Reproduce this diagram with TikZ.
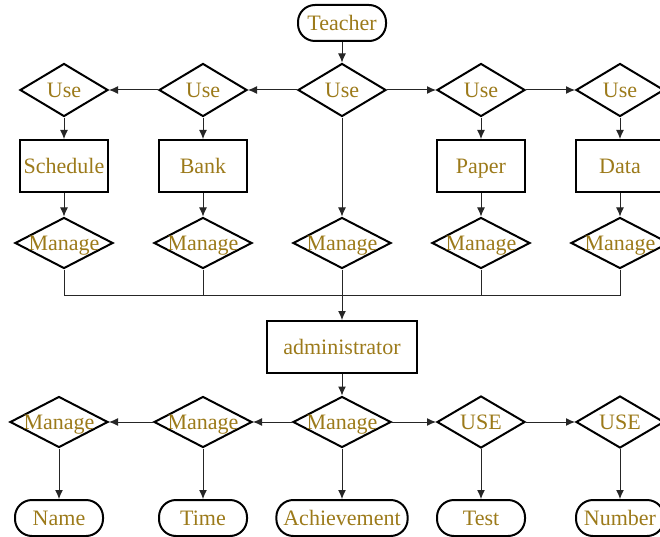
\documentclass[tikz,border=0pt]{standalone}
\usepackage{fontspec}
\setmainfont{Liberation Serif}
\usetikzlibrary{shapes.geometric,arrows.meta}
\definecolor{txt}{HTML}{9C7A1A}
\newcommand\dtxt[1]{\makebox[0pt]{#1}}
\begin{document}
\begin{tikzpicture}[x=1pt,y=-1pt,
  every node/.style={font=\fontsize{22}{26}\selectfont, text=txt, text height=15.5pt, text depth=0pt},
  usebox/.style={diamond, draw, line width=2pt, minimum width=88pt, minimum height=53pt, inner sep=0pt},
  mgbox/.style={diamond, draw, line width=2pt, minimum width=98pt, minimum height=51pt, inner sep=0pt},
  entbox/.style={rectangle, draw, line width=2pt, minimum width=88pt, minimum height=52pt, inner sep=4pt},
  termbox/.style={rectangle, draw, line width=2pt, rounded corners=17pt, minimum width=88pt, minimum height=36pt, inner xsep=7pt, inner ysep=2pt},
  conn/.style={line width=1pt, draw=black!85},
  arr/.style={conn, -{Latex[length=9pt,width=8pt]}}
]
\useasboundingbox (0,0) rectangle (660,537);
% top
\node[termbox] (teacher) at (342,23) {Teacher};
\node[usebox] (u1) at (64,90) {\dtxt{Use}};
\node[usebox] (u2) at (203,90) {\dtxt{Use}};
\node[usebox] (u3) at (342,90) {\dtxt{Use}};
\node[usebox] (u4) at (481,90) {\dtxt{Use}};
\node[usebox] (u5) at (620,90) {\dtxt{Use}};
\node[entbox] (b1) at (64,166) {Schedule};
\node[entbox] (b2) at (203,166) {Bank};
\node[entbox] (b4) at (481,166) {Paper};
\node[entbox] (b5) at (620,166) {Data};
\node[mgbox] (m1) at (64,243) {\dtxt{Manage}};
\node[mgbox] (m2) at (203,243) {\dtxt{Manage}};
\node[mgbox] (m3) at (342,243) {\dtxt{Manage}};
\node[mgbox] (m4) at (481,243) {\dtxt{Manage}};
\node[mgbox] (m5) at (620,243) {\dtxt{Manage}};
\coordinate (bus) at (342,295);
\node[entbox, minimum width=150pt] (admin) at (342,347) {administrator};
% bottom
\node[mgbox] (n1) at (59,422) {\dtxt{Manage}};
\node[mgbox] (n2) at (203,422) {\dtxt{Manage}};
\node[mgbox] (n3) at (342,422) {\dtxt{Manage}};
\node[usebox, minimum height=52pt] (n4) at (481,422) {\dtxt{USE}};
\node[usebox, minimum height=52pt] (n5) at (620,422) {\dtxt{USE}};
\node[termbox] (t1) at (59,518) {Name};
\node[termbox] (t2) at (203,518) {Time};
\node[termbox] (t3) at (342,518) {Achievement};
\node[termbox] (t4) at (481,518) {Test};
\node[termbox] (t5) at (620,518) {Number};
% connectors top
\draw[arr] (teacher) -- (u3);
\draw[arr] (u3) -- (u2);
\draw[arr] (u2) -- (u1);
\draw[arr] (u3) -- (u4);
\draw[arr] (u4) -- (u5);
\draw[arr] (u1) -- (b1);
\draw[arr] (u2) -- (b2);
\draw[arr] (u4) -- (b4);
\draw[arr] (u5) -- (b5);
\draw[arr] (u3) -- (m3);
\draw[arr] (b1) -- (m1);
\draw[arr] (b2) -- (m2);
\draw[arr] (b4) -- (m4);
\draw[arr] (b5) -- (m5);
\draw[conn] (m1.south) |- (bus);
\draw[conn] (m2.south) |- (bus);
\draw[conn] (m4.south) |- (bus);
\draw[conn] (m5.south) |- (bus);
\draw[arr] (m3) -- (admin);
% connectors bottom
\draw[arr] (admin) -- (n3);
\draw[arr] (n3) -- (n2);
\draw[arr] (n2) -- (n1);
\draw[arr] (n3) -- (n4);
\draw[arr] (n4) -- (n5);
\draw[arr] (n1) -- (t1);
\draw[arr] (n2) -- (t2);
\draw[arr] (n3) -- (t3);
\draw[arr] (n4) -- (t4);
\draw[arr] (n5) -- (t5);
\end{tikzpicture}
\end{document}
